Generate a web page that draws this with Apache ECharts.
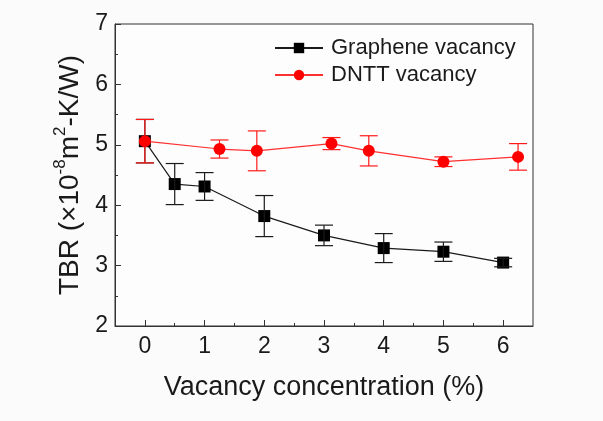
<!DOCTYPE html>
<html>
<head>
<meta charset="utf-8">
<script src="https://cdn.jsdelivr.net/npm/echarts@6/dist/echarts.min.js"></script>
<style>
  html, body { margin: 0; padding: 0; background: #fbfbfb; }
  #chart { width: 603px; height: 421px; }
</style>
</head>
<body>
<div id="chart"></div>
<script>
// Thermal boundary resistance vs. vacancy concentration
const grapheneX   = [0, 0.5, 1, 2, 3, 4, 5, 6];
const grapheneTBR = [5.06, 4.35, 4.31, 3.82, 3.50, 3.29, 3.23, 3.05];
const grapheneErr = [0.36, 0.34, 0.23, 0.34, 0.17, 0.24, 0.16, 0.07];

const dnttX   = [0, 1.25, 1.875, 3.125, 3.75, 5, 6.25];
const dnttTBR = [5.06, 4.93, 4.90, 5.02, 4.90, 4.72, 4.80];
const dnttErr = [0.36, 0.15, 0.33, 0.10, 0.25, 0.08, 0.22];

const xTicks = [0, 1, 2, 3, 4, 5, 6];
const xMinorTicks = [0.5, 1.5, 2.5, 3.5, 4.5, 5.5];
const yTicks = [2, 3, 4, 5, 6, 7];

const FONT = 'Liberation Sans, Arial, sans-serif';

function pairs(xs, ys) { return xs.map((x, i) => [x, ys[i]]); }
function errRows(xs, ys, es) { return xs.map((x, i) => [x, ys[i] - es[i], ys[i] + es[i]]); }

function errorBarRenderer(color) {
  return function (params, api) {
    const x = api.value(0);
    const lo = api.coord([x, api.value(1)]);
    const hi = api.coord([x, api.value(2)]);
    const half = 9;
    const style = { stroke: color, lineWidth: 1.2, fill: null };
    return {
      type: 'group',
      children: [
        { type: 'line', shape: { x1: lo[0], y1: lo[1], x2: hi[0], y2: hi[1] }, style },
        { type: 'line', shape: { x1: lo[0] - half, y1: lo[1], x2: lo[0] + half, y2: lo[1] }, style },
        { type: 'line', shape: { x1: hi[0] - half, y1: hi[1], x2: hi[0] + half, y2: hi[1] }, style }
      ]
    };
  };
}

const chart = echarts.init(document.getElementById('chart'), null, { renderer: 'canvas' });

const axisLine = { show: true, onZero: false, lineStyle: { color: '#333', width: 1 } };

chart.setOption({
  backgroundColor: '#fbfbfb',
  animation: false,
  textStyle: { fontFamily: FONT },
  grid: {
    left: 115, right: 70, top: 24, bottom: 95,
    show: true, borderColor: '#333', borderWidth: 1, backgroundColor: '#fdfdfd'
  },
  legend: {
    data: ['Graphene vacancy', 'DNTT vacancy'],
    orient: 'vertical',
    left: 269, top: 32,
    itemWidth: 48, itemHeight: 13, itemGap: 5,
    textStyle: { fontSize: 22, color: '#1a1a1a', fontFamily: FONT, padding: [0, 0, 0, 3] }
  },
  xAxis: [
    {
      type: 'value', min: -0.5, max: 6.5,
      name: 'Vacancy concentration (%)',
      nameLocation: 'middle', nameGap: 48,
      nameTextStyle: { fontSize: 27, color: '#1a1a1a', fontFamily: FONT },
      axisLine,
      axisTick: { show: true, inside: true, length: 6, customValues: xTicks, lineStyle: { color: '#333' } },
      axisLabel: { customValues: xTicks, fontSize: 23, color: '#1a1a1a', margin: 9, fontFamily: FONT },
      splitLine: { show: false }
    },
    {
      type: 'value', min: -0.5, max: 6.5, position: 'bottom',
      axisLine: { show: false, onZero: false },
      axisTick: { show: true, inside: true, length: 3, customValues: xMinorTicks, lineStyle: { color: '#333' } },
      axisLabel: { show: false },
      splitLine: { show: false }
    }
  ],
  yAxis: [
    {
      type: 'value', min: 2, max: 7, interval: 1,
      name: '{n|TBR (×10}{s|-8}{n|m}{s|2}{n|-K/W)}',
      nameLocation: 'middle', nameGap: 22, nameRotate: 90,
      nameTextStyle: {
        color: '#1a1a1a', fontFamily: FONT,
        rich: {
          n: { fontSize: 28, lineHeight: 32, verticalAlign: 'bottom', color: '#1a1a1a', fontFamily: FONT },
          s: { fontSize: 17, lineHeight: 17, verticalAlign: 'top', color: '#1a1a1a', fontFamily: FONT }
        }
      },
      axisLine,
      axisTick: { show: true, inside: true, length: 6, lineStyle: { color: '#333' } },
      minorTick: { show: true, splitNumber: 2, length: 3, lineStyle: { color: '#333' } },
      axisLabel: { fontSize: 23, color: '#1a1a1a', margin: 7, fontFamily: FONT,
        customValues: yTicks },
      splitLine: { show: false }
    }
  ],
  series: [
    {
      name: 'Graphene vacancy', type: 'line',
      data: pairs(grapheneX, grapheneTBR),
      symbol: 'rect', symbolSize: 12,
      lineStyle: { color: '#1a1a1a', width: 1.2 },
      itemStyle: { color: '#000' },
      z: 2
    },
    {
      name: 'Graphene error', type: 'custom',
      data: errRows(grapheneX, grapheneTBR, grapheneErr),
      renderItem: errorBarRenderer('#1a1a1a'),
      encode: { x: 0, y: [1, 2] },
      z: 3
    },
    {
      name: 'DNTT error', type: 'custom',
      data: errRows(dnttX, dnttTBR, dnttErr),
      renderItem: errorBarRenderer('#ff1a1a'),
      encode: { x: 0, y: [1, 2] },
      z: 4
    },
    {
      name: 'DNTT vacancy', type: 'line',
      data: pairs(dnttX, dnttTBR),
      symbol: 'circle', symbolSize: 12,
      lineStyle: { color: '#ff3030', width: 1.2 },
      itemStyle: { color: '#ff0000' },
      z: 5
    }
  ]
});
</script>
</body>
</html>
